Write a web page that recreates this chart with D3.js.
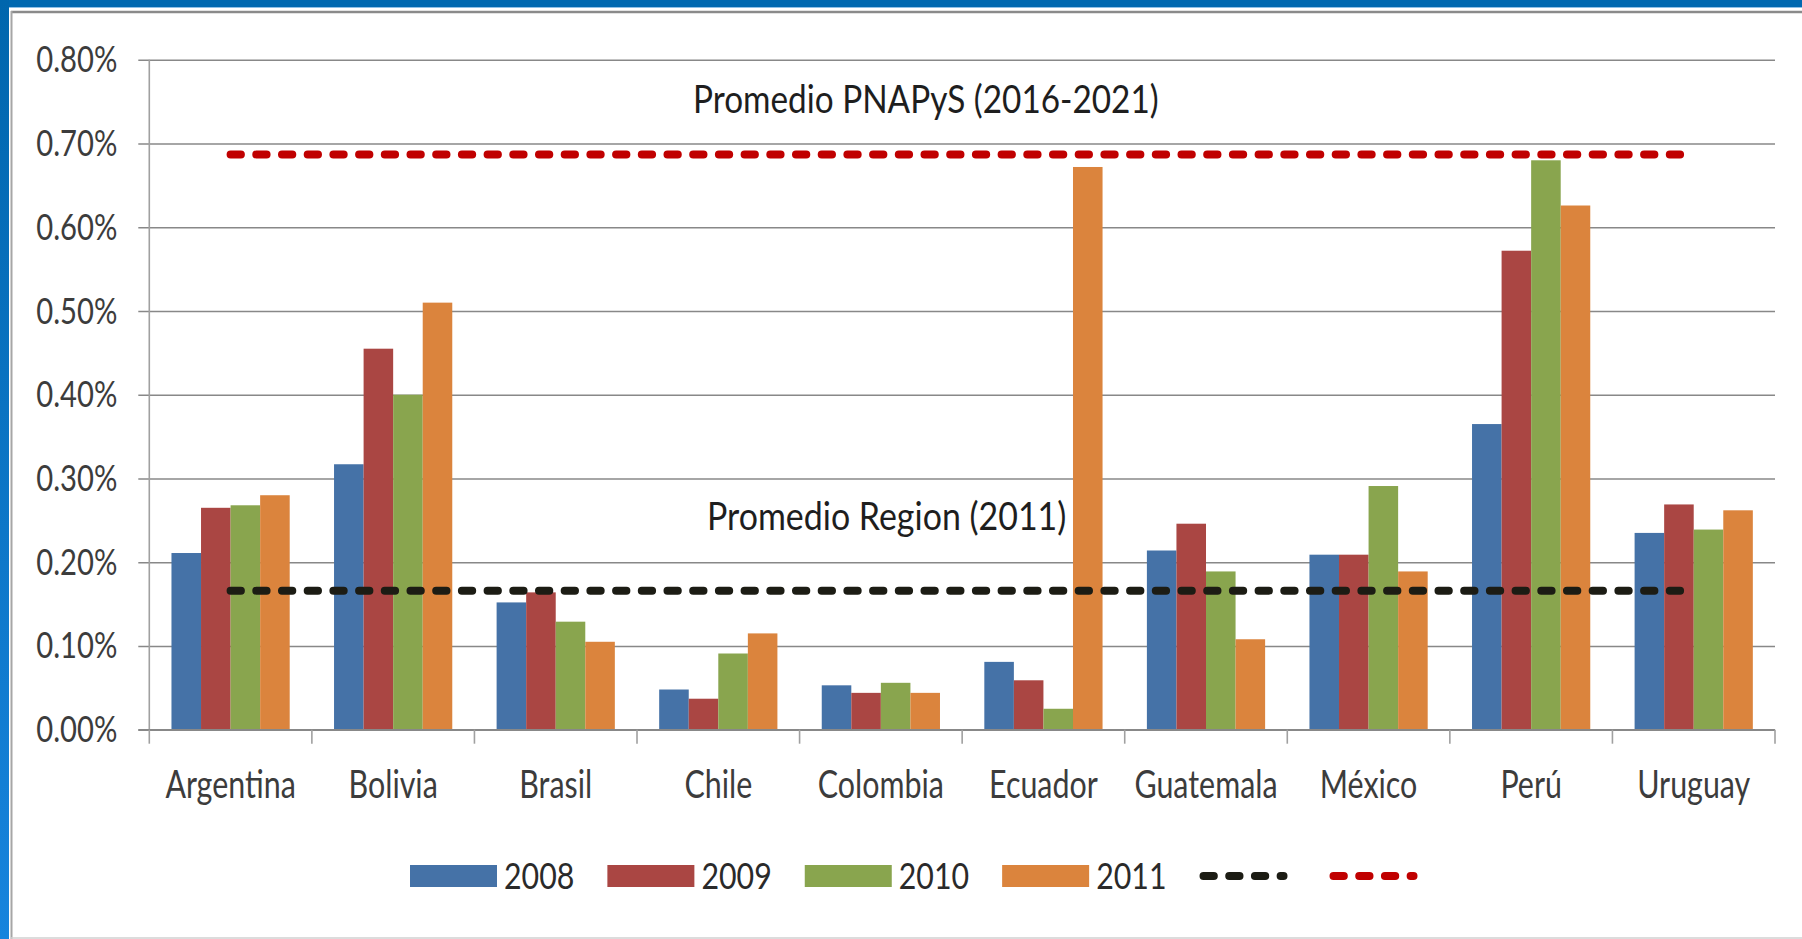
<!DOCTYPE html>
<html lang="es">

<head>
    <title>Promedio PNAPyS</title>
    <meta charset="utf-8">
    <script src="https://d3js.org/d3.v7.min.js"></script>
    <style>
        html, body { margin: 0; padding: 0; background: #ffffff; }
        svg { display: block; }
        text { font-family: "Lato", "Open Sans", sans-serif; }
    </style>
</head>

<body>
    <div id="chart"></div>
    <script>
        // Data
        const countries = ["Argentina", "Bolivia", "Brasil", "Chile", "Colombia", "Ecuador", "Guatemala", "México", "Perú", "Uruguay"];
        const years = ["2008", "2009", "2010", "2011"];
        const v2008 = [0.211, 0.317, 0.152, 0.048, 0.053, 0.081, 0.214, 0.209, 0.365, 0.235];
        const v2009 = [0.265, 0.455, 0.164, 0.037, 0.044, 0.059, 0.246, 0.209, 0.572, 0.269];
        const v2010 = [0.268, 0.400, 0.129, 0.091, 0.056, 0.025, 0.189, 0.291, 0.680, 0.239];
        const v2011 = [0.280, 0.510, 0.105, 0.115, 0.044, 0.672, 0.108, 0.189, 0.626, 0.262];
        const promedioRegion = 0.166;
        const promedioPNAPyS = 0.687;
        const yTicks = [0, 0.1, 0.2, 0.3, 0.4, 0.5, 0.6, 0.7, 0.8];

        const series = [v2008, v2009, v2010, v2011];
        const colors = ["#4572a7", "#aa4643", "#89a54e", "#db843d"];

        // Canvas
        const W = 1802, H = 939;
        const plot = { left: 149.3, right: 1775, top: 59.8, bottom: 729.7 };
        const sx = 0.8; // narrow look of the original text

        const svg = d3.select("#chart")
            .append("svg")
            .attr("width", W)
            .attr("height", H);

        // Frame
        const grad = svg.append("defs").append("linearGradient")
            .attr("id", "blueSide")
            .attr("x1", 0).attr("y1", 0).attr("x2", 0).attr("y2", 1);
        grad.append("stop").attr("offset", "0%").attr("stop-color", "#0066ad");
        grad.append("stop").attr("offset", "100%").attr("stop-color", "#1784dd");

        svg.append("rect").attr("width", W).attr("height", H).attr("fill", "#ffffff");
        svg.append("rect").attr("x", 0).attr("y", 0).attr("width", W).attr("height", 7).attr("fill", "#0068b0");
        svg.append("rect").attr("x", 0).attr("y", 0).attr("width", 9).attr("height", H).attr("fill", "url(#blueSide)");
        svg.append("line").attr("x1", 9).attr("x2", W).attr("y1", 7.5).attr("y2", 7.5)
            .attr("stroke", "#8fc0e6").attr("stroke-width", 1);
        svg.append("line").attr("x1", 11).attr("x2", W).attr("y1", 12).attr("y2", 12)
            .attr("stroke", "#8a8a8a").attr("stroke-width", 2.5);
        svg.append("line").attr("x1", 11.5).attr("x2", 11.5).attr("y1", 11).attr("y2", H)
            .attr("stroke", "#a6a6a6").attr("stroke-width", 2);
        svg.append("line").attr("x1", 11).attr("x2", W).attr("y1", 938).attr("y2", 938)
            .attr("stroke", "#d0d0d0").attr("stroke-width", 1.5);

        // Scales
        const x = d3.scaleBand()
            .domain(countries)
            .range([plot.left, plot.right]);
        const bw = x.bandwidth();
        const barW = bw / 5.5;
        const xIn = d3.scaleBand()
            .domain(years)
            .range([barW * 0.75, bw - barW * 0.75]);
        const y = d3.scaleLinear()
            .domain([0, 0.8])
            .range([plot.bottom, plot.top]);

        function narrowText(g, tx, ty, str, k = sx) {
            return g.append("text")
                .attr("transform", `translate(${tx},${ty}) scale(${k},1)`)
                .text(str);
        }

        // Gridlines and y labels
        const yAxis = svg.append("g")
            .attr("transform", `translate(${plot.left - 11},0)`)
            .call(d3.axisLeft(y).tickValues(yTicks).tickSize(-(plot.right - plot.left + 11)).tickFormat(d => d3.format(".2f")(d) + "%"));
        yAxis.select(".domain").remove();
        yAxis.selectAll(".tick line").attr("stroke", "#888888").attr("stroke-width", 1.6);
        yAxis.selectAll(".tick text")
            .attr("x", null).attr("dy", null)
            .attr("transform", `translate(-21,12) scale(${sx},1)`)
            .attr("font-size", "36.5px")
            .attr("fill", "#3c3c3c");

        svg.append("line")
            .attr("x1", plot.left).attr("x2", plot.left)
            .attr("y1", y(0.8)).attr("y2", y(0))
            .attr("stroke", "#a0a0a0").attr("stroke-width", 1.6);

        // Bars
        const bars = svg.append("g");
        series.forEach((vals, s) => {
            bars.selectAll(null)
                .data(vals)
                .join("rect")
                .attr("x", (d, i) => x(countries[i]) + xIn(years[s]))
                .attr("y", d => y(d))
                .attr("width", xIn.bandwidth())
                .attr("height", d => y(0) - y(d))
                .attr("fill", colors[s]);
        });

        // X axis
        svg.append("line")
            .attr("x1", plot.left - 11).attr("x2", plot.right)
            .attr("y1", y(0)).attr("y2", y(0))
            .attr("stroke", "#888888").attr("stroke-width", 1.6);
        const bounds = countries.map(c => x(c)).concat([plot.right]);
        svg.selectAll("line.xtick")
            .data(bounds)
            .join("line")
            .attr("class", "xtick")
            .attr("x1", d => d).attr("x2", d => d)
            .attr("y1", y(0)).attr("y2", y(0) + 14)
            .attr("stroke", "#a0a0a0").attr("stroke-width", 1.6);

        const xLabels = svg.append("g")
            .attr("text-anchor", "middle")
            .attr("font-size", "38px")
            .attr("fill", "#3c3c3c");
        countries.forEach(c => narrowText(xLabels, x(c) + bw / 2, 798, c));

        // Average lines
        const lineGen = d3.line()
            .x(d => x(d) + bw / 2);
        const refLines = [
            { value: promedioRegion, color: "#1c1c14" },
            { value: promedioPNAPyS, color: "#c00000" }
        ];
        refLines.forEach(r => {
            svg.append("path")
                .datum(countries)
                .attr("d", lineGen.y(() => y(r.value)))
                .attr("fill", "none")
                .attr("stroke", r.color)
                .attr("stroke-width", 8)
                .attr("stroke-linecap", "round")
                .attr("stroke-dasharray", "10.3,15.4");
        });

        // Annotations
        const notes = svg.append("g")
            .attr("font-size", "39px")
            .attr("fill", "#1e1e1e");
        narrowText(notes, 693, 113, "Promedio PNAPyS (2016-2021)", 0.855);
        narrowText(notes, 707, 530, "Promedio Region (2011)", 0.87);

        // Legend
        const legend = svg.append("g")
            .attr("font-size", "37px")
            .attr("fill", "#2a2a2a");
        let lx = 410;
        const ly = 876;
        years.forEach((yr, i) => {
            legend.append("rect")
                .attr("x", lx).attr("y", ly - 11)
                .attr("width", 87).attr("height", 22)
                .attr("fill", colors[i]);
            const t = narrowText(legend, lx + 94, 889, yr, 0.82);
            lx += 94 + t.node().getComputedTextLength() * 0.82 + 33;
        });
        refLines.forEach(r => {
            legend.append("line")
                .attr("x1", lx + 4).attr("x2", lx + 84)
                .attr("y1", ly).attr("y2", ly)
                .attr("stroke", r.color)
                .attr("stroke-width", 8)
                .attr("stroke-linecap", "round")
                .attr("stroke-dasharray", "10.3,15.4");
            lx += 88 + 42;
        });
    </script>
</body>

</html>
